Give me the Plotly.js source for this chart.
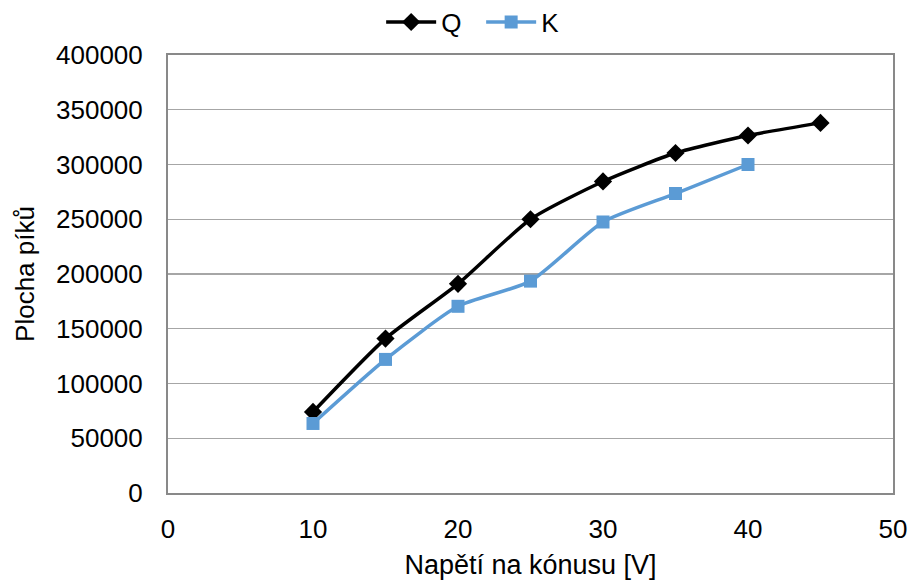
<!DOCTYPE html>
<html>
<head>
<meta charset="utf-8">
<script src="https://cdn.plot.ly/plotly-3.0.1.min.js"></script>
<style>html,body{margin:0;padding:0;background:#fff;}#chart{width:913px;height:581px;}</style>
</head>
<body>
<div id="chart"></div>
<script>
const voltage = [10, 15, 20, 25, 30, 35, 40, 45];
const seriesQ = [74000, 141000, 191000, 250000, 284500, 310500, 326500, 338000];
const voltageK = [10, 15, 20, 25, 30, 35, 40];
const seriesK = [63500, 122000, 170500, 193500, 247500, 273500, 300000];
const xTicks = [0, 10, 20, 30, 40, 50];
const yTicks = [0, 50000, 100000, 150000, 200000, 250000, 300000, 350000, 400000];

const font = 'Liberation Sans, Arial, sans-serif';
const traces = [
  {x: voltage, y: seriesQ, name: 'Q', mode: 'lines+markers',
   line: {color: '#000000', width: 3.5, shape: 'spline', smoothing: 0.6},
   marker: {symbol: 'diamond', size: 14, color: '#000000'}},
  {x: voltageK, y: seriesK, name: 'K', mode: 'lines+markers',
   line: {color: '#5b9bd5', width: 3.5, shape: 'spline', smoothing: 0.6},
   marker: {symbol: 'square', size: 13, color: '#5b9bd5'}}
];
const layout = {
  width: 913, height: 581,
  margin: {l: 168, r: 20, t: 55, b: 88},
  paper_bgcolor: '#ffffff', plot_bgcolor: '#ffffff',
  font: {family: font, size: 26, color: '#000000'},
  showlegend: true,
  legend: {orientation: 'h', x: 0.527, xanchor: 'center', xref: 'container',
           y: 0.962, yanchor: 'middle', yref: 'container',
           font: {size: 26}, itemwidth: 50, entrywidth: 35, tracegroupgap: 0},
  xaxis: {
    range: [0, 50], tickvals: xTicks, ticktext: xTicks.map(String),
    showgrid: false, zeroline: false, showline: true, linecolor: '#898989', linewidth: 2,
    mirror: true, ticks: '', ticklabelstandoff: 12,
    title: {text: 'Napětí na kónusu [V]', font: {size: 27}, standoff: 12}
  },
  yaxis: {
    range: [0, 400000], tickvals: yTicks, ticktext: yTicks.map(String),
    showgrid: true, gridcolor: '#a6a6a6', gridwidth: 1.3, zeroline: false,
    showline: true, linecolor: '#898989', linewidth: 2, mirror: true,
    ticks: '', ticklabelstandoff: 18,
    title: {text: 'Plocha píků', font: {size: 26}, standoff: 14}
  }
};
Plotly.newPlot('chart', traces, layout, {displayModeBar: false, staticPlot: true});
</script>
</body>
</html>
